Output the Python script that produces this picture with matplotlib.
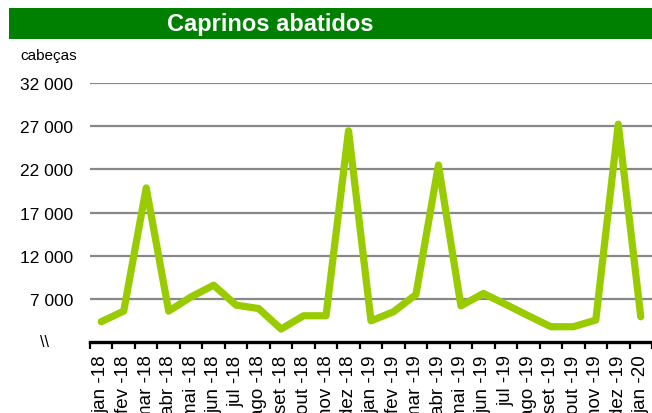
import matplotlib
matplotlib.use("Agg")
import matplotlib.pyplot as plt
from matplotlib.patches import Rectangle
from matplotlib.ticker import FuncFormatter
import numpy as np

meses = ["jan -18", "fev -18", "mar -18", "abr -18", "mai -18", "jun -18", "jul -18",
         "ago -18", "set -18", "out -18", "nov -18", "dez -18", "jan -19", "fev -19",
         "mar -19", "abr -19", "mai -19", "jun -19", "jul -19", "ago -19", "set -19",
         "out -19", "nov -19", "dez -19", "jan -20"]
cabecas = [4350, 5580, 19850, 5580, 7230, 8580, 6270, 5880, 3500, 5040, 5040, 26460,
           4450, 5500, 7500, 22500, 6190, 7620, 6350, 5040, 3770, 3770, 4540, 27230, 4920]
yticks = [7000, 12000, 17000, 22000, 27000, 32000]

plt.rcParams['font.family'] = ['Liberation Sans', 'DejaVu Sans']

fig = plt.figure(figsize=(6.52, 4.14), dpi=100)
ax = fig.add_axes([90 / 652, 71 / 414, 562 / 652, 259 / 414])

x = np.arange(len(meses))
ax.plot(x, cabecas, color="#99cc00", lw=5.2, solid_joinstyle="round",
        solid_capstyle="round", clip_on=False, zorder=3)

ax.set_xlim(-0.5, len(meses) - 0.5)
ax.set_ylim(2000, 32000)
ax.set_yticks(yticks)
ax.yaxis.set_major_formatter(FuncFormatter(lambda v, p: f"{int(v):,}".replace(",", " ")))
ax.grid(axis="y", color="#888888", lw=1.6)
ax.set_axisbelow(True)
ax.tick_params(axis="y", length=0, pad=12, labelsize=12.5)

ax.set_xticks(x)
ax.set_xticklabels(meses, rotation=90, fontsize=13.5)
ax.set_xticks(np.arange(-0.5, len(meses)), minor=True)
ax.tick_params(axis="x", which="major", length=0, pad=9)
ax.tick_params(axis="x", which="minor", length=5, width=1.6, color="black")

for s in ["left", "right", "top"]:
    ax.spines[s].set_visible(False)
ax.spines["bottom"].set_linewidth(2.4)
ax.spines["bottom"].set_color("black")

# faixa do titulo
fig.patches.append(Rectangle((9 / 652, 374 / 414), 1, 31 / 414, transform=fig.transFigure,
                             facecolor="#008000", edgecolor="none"))
fig.text(270 / 652, 389 / 414, "Caprinos abatidos", color="white", fontsize=17,
         fontweight="bold", ha="center", va="center")
fig.text(20 / 652, 358 / 414, "cabeças", fontsize=11, ha="left", va="center")
fig.text(45 / 652, 71 / 414, "\\\\", fontsize=11.5, ha="center", va="center")

fig.savefig("out.png", dpi=100)
plt.close()
